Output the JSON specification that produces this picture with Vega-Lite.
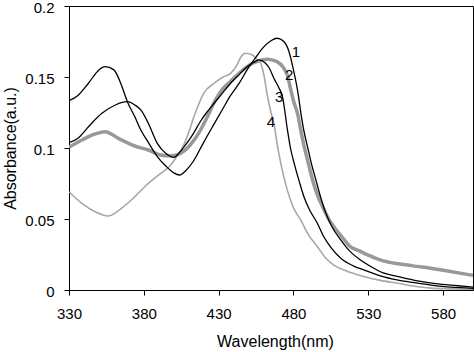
{
  "$schema": "https://vega.github.io/schema/vega-lite/v6.json",
  "width": 404,
  "height": 284,
  "autosize": {"type": "none"},
  "padding": {"left": 69, "top": 6, "right": 1, "bottom": 62},
  "background": "white",
  "config": {
    "view": {"stroke": "black", "strokeWidth": 1},
    "axis": {
      "grid": false,
      "domainColor": "black",
      "tickColor": "black",
      "labelColor": "black",
      "titleColor": "black",
      "labelFont": "Liberation Sans",
      "titleFont": "Liberation Sans",
      "labelFontSize": 15,
      "titleFontSize": 16,
      "titleFontWeight": "normal",
      "tickSize": 5,
      "domainWidth": 1,
      "tickWidth": 1,
      "labelFlush": false
    }
  },
  "data": {
    "values": [
      {"series": "2", "wavelength": 330, "absorbance": 0.1005},
      {"series": "2", "wavelength": 338.6, "absorbance": 0.1056},
      {"series": "2", "wavelength": 347.5, "absorbance": 0.1099},
      {"series": "2", "wavelength": 354, "absorbance": 0.1115},
      {"series": "2", "wavelength": 363, "absorbance": 0.1068},
      {"series": "2", "wavelength": 374, "absorbance": 0.1014},
      {"series": "2", "wavelength": 383, "absorbance": 0.0986},
      {"series": "2", "wavelength": 391, "absorbance": 0.0951},
      {"series": "2", "wavelength": 397, "absorbance": 0.0945},
      {"series": "2", "wavelength": 402, "absorbance": 0.0951},
      {"series": "2", "wavelength": 407, "absorbance": 0.098},
      {"series": "2", "wavelength": 411, "absorbance": 0.1021},
      {"series": "2", "wavelength": 417, "absorbance": 0.111},
      {"series": "2", "wavelength": 422, "absorbance": 0.121},
      {"series": "2", "wavelength": 428, "absorbance": 0.134},
      {"series": "2", "wavelength": 433, "absorbance": 0.142},
      {"series": "2", "wavelength": 438, "absorbance": 0.147},
      {"series": "2", "wavelength": 444, "absorbance": 0.153},
      {"series": "2", "wavelength": 450, "absorbance": 0.158},
      {"series": "2", "wavelength": 456, "absorbance": 0.161},
      {"series": "2", "wavelength": 462.7, "absorbance": 0.1625},
      {"series": "2", "wavelength": 469, "absorbance": 0.1608},
      {"series": "2", "wavelength": 473, "absorbance": 0.157},
      {"series": "2", "wavelength": 476, "absorbance": 0.151},
      {"series": "2", "wavelength": 478, "absorbance": 0.142},
      {"series": "2", "wavelength": 480.5, "absorbance": 0.1315},
      {"series": "2", "wavelength": 482.7, "absorbance": 0.1244},
      {"series": "2", "wavelength": 485, "absorbance": 0.112},
      {"series": "2", "wavelength": 487.2, "absorbance": 0.1009},
      {"series": "2", "wavelength": 490, "absorbance": 0.089},
      {"series": "2", "wavelength": 492.8, "absorbance": 0.0775},
      {"series": "2", "wavelength": 496, "absorbance": 0.067},
      {"series": "2", "wavelength": 499.5, "absorbance": 0.0587},
      {"series": "2", "wavelength": 503, "absorbance": 0.051},
      {"series": "2", "wavelength": 507, "absorbance": 0.0446},
      {"series": "2", "wavelength": 512, "absorbance": 0.038},
      {"series": "2", "wavelength": 518, "absorbance": 0.0305},
      {"series": "2", "wavelength": 524, "absorbance": 0.0275},
      {"series": "2", "wavelength": 530, "absorbance": 0.0245},
      {"series": "2", "wavelength": 540, "absorbance": 0.0205},
      {"series": "2", "wavelength": 550, "absorbance": 0.0185},
      {"series": "2", "wavelength": 560, "absorbance": 0.017},
      {"series": "2", "wavelength": 572, "absorbance": 0.0153},
      {"series": "2", "wavelength": 585, "absorbance": 0.013},
      {"series": "2", "wavelength": 600, "absorbance": 0.0103},

      {"series": "4", "wavelength": 330, "absorbance": 0.0692},
      {"series": "4", "wavelength": 338.6, "absorbance": 0.061},
      {"series": "4", "wavelength": 347.5, "absorbance": 0.0551},
      {"series": "4", "wavelength": 356, "absorbance": 0.0521},
      {"series": "4", "wavelength": 365, "absorbance": 0.0575},
      {"series": "4", "wavelength": 374, "absorbance": 0.0657},
      {"series": "4", "wavelength": 383, "absorbance": 0.0751},
      {"series": "4", "wavelength": 390, "absorbance": 0.081},
      {"series": "4", "wavelength": 398, "absorbance": 0.088},
      {"series": "4", "wavelength": 402, "absorbance": 0.0939},
      {"series": "4", "wavelength": 405, "absorbance": 0.0986},
      {"series": "4", "wavelength": 409, "absorbance": 0.108},
      {"series": "4", "wavelength": 413.5, "absorbance": 0.122},
      {"series": "4", "wavelength": 416, "absorbance": 0.1291},
      {"series": "4", "wavelength": 420, "absorbance": 0.1385},
      {"series": "4", "wavelength": 427, "absorbance": 0.1456},
      {"series": "4", "wavelength": 433, "absorbance": 0.15},
      {"series": "4", "wavelength": 438, "absorbance": 0.1526},
      {"series": "4", "wavelength": 442, "absorbance": 0.158},
      {"series": "4", "wavelength": 445, "absorbance": 0.1643},
      {"series": "4", "wavelength": 448, "absorbance": 0.1667},
      {"series": "4", "wavelength": 452.6, "absorbance": 0.1655},
      {"series": "4", "wavelength": 456, "absorbance": 0.162},
      {"series": "4", "wavelength": 458.2, "absorbance": 0.1596},
      {"series": "4", "wavelength": 460.5, "absorbance": 0.15},
      {"series": "4", "wavelength": 462.7, "absorbance": 0.1361},
      {"series": "4", "wavelength": 465, "absorbance": 0.125},
      {"series": "4", "wavelength": 467, "absorbance": 0.117},
      {"series": "4", "wavelength": 469.4, "absorbance": 0.1009},
      {"series": "4", "wavelength": 471.6, "absorbance": 0.089},
      {"series": "4", "wavelength": 476, "absorbance": 0.07},
      {"series": "4", "wavelength": 480, "absorbance": 0.058},
      {"series": "4", "wavelength": 485, "absorbance": 0.049},
      {"series": "4", "wavelength": 490, "absorbance": 0.039},
      {"series": "4", "wavelength": 496, "absorbance": 0.0305},
      {"series": "4", "wavelength": 502, "absorbance": 0.022},
      {"series": "4", "wavelength": 507, "absorbance": 0.0175},
      {"series": "4", "wavelength": 515, "absorbance": 0.0135},
      {"series": "4", "wavelength": 527, "absorbance": 0.0095},
      {"series": "4", "wavelength": 538, "absorbance": 0.0068},
      {"series": "4", "wavelength": 550, "absorbance": 0.0047},
      {"series": "4", "wavelength": 562, "absorbance": 0.0025},
      {"series": "4", "wavelength": 572, "absorbance": 0.0013},
      {"series": "4", "wavelength": 585, "absorbance": 0.0008},
      {"series": "4", "wavelength": 600, "absorbance": 0.0005},

      {"series": "1", "wavelength": 330, "absorbance": 0.1333},
      {"series": "1", "wavelength": 336, "absorbance": 0.137},
      {"series": "1", "wavelength": 343, "absorbance": 0.1456},
      {"series": "1", "wavelength": 350, "absorbance": 0.155},
      {"series": "1", "wavelength": 354, "absorbance": 0.1573},
      {"series": "1", "wavelength": 360, "absorbance": 0.155},
      {"series": "1", "wavelength": 365, "absorbance": 0.1444},
      {"series": "1", "wavelength": 369, "absorbance": 0.1326},
      {"series": "1", "wavelength": 374, "absorbance": 0.122},
      {"series": "1", "wavelength": 378, "absorbance": 0.1127},
      {"series": "1", "wavelength": 383, "absorbance": 0.104},
      {"series": "1", "wavelength": 389, "absorbance": 0.094},
      {"series": "1", "wavelength": 395, "absorbance": 0.087},
      {"series": "1", "wavelength": 400, "absorbance": 0.0825},
      {"series": "1", "wavelength": 404, "absorbance": 0.081},
      {"series": "1", "wavelength": 408, "absorbance": 0.084},
      {"series": "1", "wavelength": 413, "absorbance": 0.0905},
      {"series": "1", "wavelength": 420, "absorbance": 0.104},
      {"series": "1", "wavelength": 427, "absorbance": 0.117},
      {"series": "1", "wavelength": 433, "absorbance": 0.128},
      {"series": "1", "wavelength": 438, "absorbance": 0.137},
      {"series": "1", "wavelength": 444, "absorbance": 0.146},
      {"series": "1", "wavelength": 449, "absorbance": 0.155},
      {"series": "1", "wavelength": 455, "absorbance": 0.164},
      {"series": "1", "wavelength": 460, "absorbance": 0.171},
      {"series": "1", "wavelength": 465, "absorbance": 0.1755},
      {"series": "1", "wavelength": 469, "absorbance": 0.1773},
      {"series": "1", "wavelength": 473, "absorbance": 0.1755},
      {"series": "1", "wavelength": 477, "absorbance": 0.168},
      {"series": "1", "wavelength": 480, "absorbance": 0.155},
      {"series": "1", "wavelength": 483, "absorbance": 0.139},
      {"series": "1", "wavelength": 485, "absorbance": 0.1244},
      {"series": "1", "wavelength": 487, "absorbance": 0.112},
      {"series": "1", "wavelength": 489.4, "absorbance": 0.1009},
      {"series": "1", "wavelength": 492, "absorbance": 0.089},
      {"series": "1", "wavelength": 495, "absorbance": 0.0775},
      {"series": "1", "wavelength": 498, "absorbance": 0.066},
      {"series": "1", "wavelength": 501.7, "absorbance": 0.054},
      {"series": "1", "wavelength": 506, "absorbance": 0.044},
      {"series": "1", "wavelength": 511.7, "absorbance": 0.0352},
      {"series": "1", "wavelength": 518, "absorbance": 0.027},
      {"series": "1", "wavelength": 525, "absorbance": 0.021},
      {"series": "1", "wavelength": 530, "absorbance": 0.0176},
      {"series": "1", "wavelength": 540, "absorbance": 0.012},
      {"series": "1", "wavelength": 550, "absorbance": 0.0095},
      {"series": "1", "wavelength": 563, "absorbance": 0.0065},
      {"series": "1", "wavelength": 575, "absorbance": 0.0045},
      {"series": "1", "wavelength": 590, "absorbance": 0.003},
      {"series": "1", "wavelength": 600, "absorbance": 0.002},

      {"series": "3", "wavelength": 330, "absorbance": 0.1037},
      {"series": "3", "wavelength": 336, "absorbance": 0.1068},
      {"series": "3", "wavelength": 343, "absorbance": 0.115},
      {"series": "3", "wavelength": 352, "absorbance": 0.1244},
      {"series": "3", "wavelength": 361, "absorbance": 0.1303},
      {"series": "3", "wavelength": 369, "absorbance": 0.1326},
      {"series": "3", "wavelength": 374, "absorbance": 0.1303},
      {"series": "3", "wavelength": 378, "absorbance": 0.1268},
      {"series": "3", "wavelength": 383, "absorbance": 0.1174},
      {"series": "3", "wavelength": 389, "absorbance": 0.1033},
      {"series": "3", "wavelength": 395, "absorbance": 0.096},
      {"series": "3", "wavelength": 400, "absorbance": 0.0934},
      {"series": "3", "wavelength": 404, "absorbance": 0.097},
      {"series": "3", "wavelength": 407, "absorbance": 0.1009},
      {"series": "3", "wavelength": 413, "absorbance": 0.11},
      {"series": "3", "wavelength": 418, "absorbance": 0.119},
      {"series": "3", "wavelength": 422, "absorbance": 0.125},
      {"series": "3", "wavelength": 427, "absorbance": 0.1315},
      {"series": "3", "wavelength": 432, "absorbance": 0.138},
      {"series": "3", "wavelength": 438, "absorbance": 0.1456},
      {"series": "3", "wavelength": 444, "absorbance": 0.152},
      {"series": "3", "wavelength": 449, "absorbance": 0.1573},
      {"series": "3", "wavelength": 453, "absorbance": 0.16},
      {"series": "3", "wavelength": 457, "absorbance": 0.162},
      {"series": "3", "wavelength": 461, "absorbance": 0.16},
      {"series": "3", "wavelength": 464, "absorbance": 0.156},
      {"series": "3", "wavelength": 467, "absorbance": 0.149},
      {"series": "3", "wavelength": 470, "absorbance": 0.143},
      {"series": "3", "wavelength": 472.7, "absorbance": 0.136},
      {"series": "3", "wavelength": 476, "absorbance": 0.1127},
      {"series": "3", "wavelength": 478, "absorbance": 0.1},
      {"series": "3", "wavelength": 480.5, "absorbance": 0.0892},
      {"series": "3", "wavelength": 484, "absorbance": 0.076},
      {"series": "3", "wavelength": 487, "absorbance": 0.0657},
      {"series": "3", "wavelength": 491, "absorbance": 0.056},
      {"series": "3", "wavelength": 496, "absorbance": 0.047},
      {"series": "3", "wavelength": 500, "absorbance": 0.038},
      {"series": "3", "wavelength": 505, "absorbance": 0.03},
      {"series": "3", "wavelength": 512, "absorbance": 0.022},
      {"series": "3", "wavelength": 520, "absorbance": 0.017},
      {"series": "3", "wavelength": 527, "absorbance": 0.0141},
      {"series": "3", "wavelength": 538, "absorbance": 0.01},
      {"series": "3", "wavelength": 550, "absorbance": 0.007},
      {"series": "3", "wavelength": 562, "absorbance": 0.005},
      {"series": "3", "wavelength": 572, "absorbance": 0.0035},
      {"series": "3", "wavelength": 585, "absorbance": 0.002},
      {"series": "3", "wavelength": 600, "absorbance": 0.0012}
    ]
  },
  "encoding": {
    "x": {
      "field": "wavelength",
      "type": "quantitative",
      "scale": {"domain": [330, 600], "nice": false, "zero": false},
      "axis": {
        "values": [330, 380, 430, 480, 530, 580],
        "title": "Wavelength(nm)",
        "labelPadding": 11,
        "titleX": 206,
        "titleY": 56,
        "titleBaseline": "alphabetic",
        "titleAlign": "center"
      }
    },
    "y": {
      "field": "absorbance",
      "type": "quantitative",
      "scale": {"domain": [0, 0.2], "nice": false},
      "axis": {
        "values": [0, 0.05, 0.1, 0.15, 0.2],
        "format": ".2~f",
        "title": "Absorbance(a.u.)",
        "labelPadding": 10,
        "labelOffset": 1.5,
        "titleX": -54,
        "titleY": 142,
        "titleAngle": 270,
        "titleBaseline": "alphabetic",
        "titleAlign": "center"
      }
    }
  },
  "layer": [
    {
      "transform": [{"filter": "datum.series === '2'"}],
      "mark": {"type": "line", "interpolate": "monotone", "clip": true, "color": "#999999", "strokeWidth": 3.5}
    },
    {
      "transform": [{"filter": "datum.series === '4'"}],
      "mark": {"type": "line", "interpolate": "monotone", "clip": true, "color": "#a8a8a8", "strokeWidth": 1.6}
    },
    {
      "transform": [{"filter": "datum.series === '1'"}],
      "mark": {"type": "line", "interpolate": "monotone", "clip": true, "color": "#000000", "strokeWidth": 1.3}
    },
    {
      "transform": [{"filter": "datum.series === '3'"}],
      "mark": {"type": "line", "interpolate": "monotone", "clip": true, "color": "#000000", "strokeWidth": 1.3}
    },
    {
      "data": {
        "values": [
          {"label": "1", "wavelength": 481.6, "absorbance": 0.1678},
          {"label": "2", "wavelength": 477.1, "absorbance": 0.1514},
          {"label": "3", "wavelength": 470.4, "absorbance": 0.136},
          {"label": "4", "wavelength": 464.9, "absorbance": 0.1185}
        ]
      },
      "mark": {"type": "text", "font": "Liberation Sans", "fontSize": 15, "color": "black", "align": "center", "baseline": "middle"},
      "encoding": {
        "text": {"field": "label", "type": "nominal"}
      }
    }
  ]
}
